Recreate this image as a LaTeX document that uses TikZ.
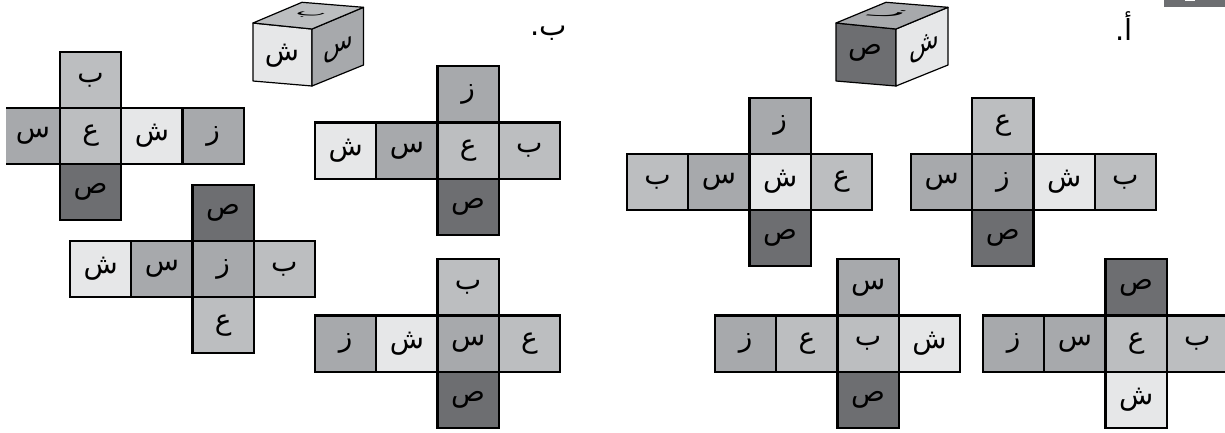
\documentclass[tikz,border=0pt]{standalone}
\usepackage{fontspec}
\newfontfamily\arabicfont[Script=Arabic]{DejaVu Sans}
\TeXXeTstate=1
\usepackage{tikz}
\usetikzlibrary{positioning}

\begin{document}
\begin{tikzpicture}[
    x=1pt,y=-1pt,
    node distance=0pt and 0pt,
    cell/.style={draw=black,line width=2.1pt,outer sep=0pt,inner sep=0pt,minimum width=61.25pt,minimum height=56.2pt,font=\fontsize{28}{28}\arabicfont},
    celllight/.style={cell,fill=shlight},
    cellmid/.style={cell,fill=bamid},
    cellgrey/.style={cell,fill=zagrey},
    celldark/.style={cell,fill=sadark},
    facepoly/.style={draw=black,line width=1.2pt,line join=round},
    facetext/.style={font=\fontsize{28}{28}\arabicfont,inner sep=0pt},
    headtext/.style={font=\fontsize{29}{29}\arabicfont,inner sep=0pt}
]
\definecolor{shlight}{HTML}{E6E7E8}
\definecolor{bamid}{HTML}{BCBEC0}
\definecolor{zagrey}{HTML}{A7A9AC}
\definecolor{sadark}{HTML}{6D6E71}
\useasboundingbox (0,0) rectangle (1225,432);

% corner strip
\fill[sadark] (1164,0) rectangle (1225,7);
\fill[white] (1185,0) rectangle (1195,1);

% heads
\node[headtext] (headB) at (549,33) {\beginR ب.\endR};
\node[headtext] (headA) at (1124,26) {\beginR أ.\endR};

% left cube
\coordinate (lA) at (253,23);
\coordinate (lB) at (312,29);
\coordinate (lC) at (312,86);
\coordinate (lD) at (253,81);
\coordinate (lE) at (302,2.3);
\coordinate (lF) at (363.5,7.3);
\coordinate (lG) at (363.5,65);
\filldraw[facepoly,fill=shlight] (lA) -- (lB) -- (lC) -- (lD) -- cycle;
\filldraw[facepoly,fill=zagrey] (lB) -- (lF) -- (lG) -- (lC) -- cycle;
\filldraw[facepoly,fill=bamid] (lA) -- (lE) -- (lF) -- (lB) -- cycle;
\node[facetext] (lfront) at (282,56) {ش};
\node[facetext,cm={0.87,0.37,0,1,(0,0)}] (lright) at (338,50) {س};
\node[facetext,cm={1,-0.1,0.85,0.36,(0,0)}] (ltop) at (308,15) {ب};

% right cube
\coordinate (rA) at (836,23);
\coordinate (rB) at (896,29);
\coordinate (rC) at (896,86);
\coordinate (rD) at (836,81);
\coordinate (rE) at (886,2.3);
\coordinate (rF) at (948,7.3);
\coordinate (rG) at (948,65);
\filldraw[facepoly,fill=sadark] (rA) -- (rB) -- (rC) -- (rD) -- cycle;
\filldraw[facepoly,fill=shlight] (rB) -- (rF) -- (rG) -- (rC) -- cycle;
\filldraw[facepoly,fill=zagrey] (rA) -- (rE) -- (rF) -- (rB) -- cycle;
\node[facetext] (rfront) at (865,53) {ص};
\node[facetext,cm={0.87,0.37,0,1,(0,0)}] (rright) at (924,47) {ش};
\node[facetext,cm={2,-0.2,0.85,0.36,(0,0)}] (rtop) at (890,14) {ز};

% net a, its left end has no border
\node[cellmid,anchor=north west] (a2) at (60,108) {ع};
\node[cellmid,above=of a2] (aU) {ب};
\node[cellgrey,left=of a2,draw=none,minimum width=54pt] (a1) {س};
\node[celllight,right=of a2] (a3) {ش};
\node[cellgrey,right=of a3] (a4) {ز};
\node[celldark,below=of a2] (aD) {ص};
\draw[line width=2.1pt] (a1.north west) -- (a1.north east) -- (a1.south east) (a1.south west) -- (a1.south east);

% net b
\node[celllight,anchor=north west] (b1) at (315,122.5) {ش};
\node[cellgrey,right=of b1] (b2) {س};
\node[cellmid,right=of b2] (b3) {ع};
\node[cellmid,right=of b3] (b4) {ب};
\node[cellgrey,above=of b3] (bU) {ز};
\node[celldark,below=of b3] (bD) {ص};

% net c
\node[celllight,anchor=north west] (c1) at (70,241) {ش};
\node[cellgrey,right=of c1] (c2) {س};
\node[cellgrey,right=of c2] (c3) {ز};
\node[cellmid,right=of c3] (c4) {ب};
\node[celldark,above=of c3] (cU) {ص};
\node[cellmid,below=of c3] (cD) {ع};

% net d
\node[cellgrey,anchor=north west] (d1) at (315,315.5) {ز};
\node[celllight,right=of d1] (d2) {ش};
\node[cellgrey,right=of d2] (d3) {س};
\node[cellmid,right=of d3] (d4) {ع};
\node[cellmid,above=of d3] (dU) {ب};
\node[celldark,below=of d3] (dD) {ص};

% net e
\node[cellmid,anchor=north west] (e1) at (627,154) {ب};
\node[cellgrey,right=of e1] (e2) {س};
\node[celllight,right=of e2] (e3) {ش};
\node[cellmid,right=of e3] (e4) {ع};
\node[cellgrey,above=of e3] (eU) {ز};
\node[celldark,below=of e3] (eD) {ص};

% net f
\node[cellgrey,anchor=north west] (f1) at (911,154) {س};
\node[cellgrey,right=of f1] (f2) {ز};
\node[celllight,right=of f2] (f3) {ش};
\node[cellmid,right=of f3] (f4) {ب};
\node[cellmid,above=of f2] (fU) {ع};
\node[celldark,below=of f2] (fD) {ص};

% net g
\node[cellgrey,anchor=north west] (g1) at (715,315.5) {ز};
\node[cellmid,right=of g1] (g2) {ع};
\node[cellmid,right=of g2] (g3) {ب};
\node[celllight,right=of g3] (g4) {ش};
\node[cellgrey,above=of g3] (gU) {س};
\node[celldark,below=of g3] (gD) {ص};

% net h
\node[cellgrey,anchor=north west] (h1) at (983,315.5) {ز};
\node[cellgrey,right=of h1] (h2) {س};
\node[cellmid,right=of h2] (h3) {ع};
\node[cellmid,right=of h3] (h4) {ب};
\node[celldark,above=of h3] (hU) {ص};
\node[celllight,below=of h3] (hD) {ش};
\end{tikzpicture}
\end{document}
